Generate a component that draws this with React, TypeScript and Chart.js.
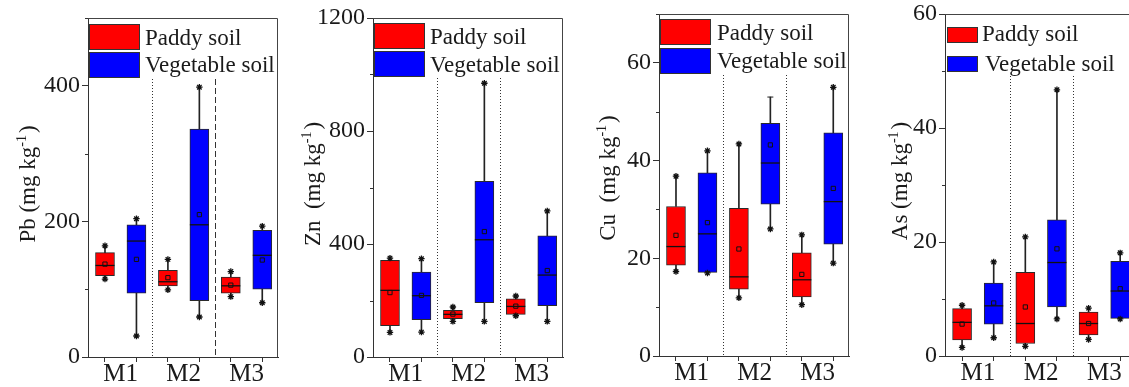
import { useEffect, useRef } from 'react';
import { Chart, registerables } from 'chart.js';

Chart.register(...registerables);

const groupLabels = ['M1', 'M2', 'M3'];
const soilLabels = ['Paddy soil', 'Vegetable soil'];
const soilColors = ['#ff0000', '#0000ff'];

// Box statistics per group (M1, M2, M3): [lower whisker, Q1, median, Q3, upper whisker]
const pbPaddy = [[115, 120, 135, 154, 164], [99, 105, 111, 128, 144], [89, 94, 105, 118, 126]];
const pbPaddyMean = [137, 117, 106];
const pbVeg = [[31, 94, 171, 195, 204], [59, 83, 195, 336, 398], [80, 100, 150, 187, 193]];
const pbVegMean = [144, 210, 143];

const znPaddy = [[87, 111, 236, 342, 350], [126, 136, 151, 165, 177], [146, 151, 179, 206, 216]];
const znPaddyMean = [228, 152, 180];
const znVeg = [[88, 132, 217, 301, 348], [126, 192, 415, 622, 969], [126, 182, 290, 429, 517]];
const znVegMean = [218, 444, 306];

const cuPaddy = [[17.3, 18.6, 22.4, 30.6, 36.8], [11.9, 13.7, 16.2, 30.2, 43.4], [10.5, 12.1, 15.6, 21.1, 24.8]];
const cuPaddyMean = [24.7, 21.9, 16.7];
const cuVeg = [[17.0, 17.1, 25.0, 37.5, 42.0], [26.0, 31.1, 39.5, 47.6, 53.0], [19.0, 22.9, 31.6, 45.7, 55.0]];
const cuVegMean = [27.3, 43.2, 34.3];
// upper whisker ends that carry an extreme-value marker
const cuVegUpperMarked = [true, false, true];

const asPaddy = [[1.5, 2.8, 5.9, 8.3, 8.9], [1.7, 2.2, 5.7, 14.7, 20.9], [2.9, 3.7, 5.7, 7.7, 8.4]];
const asPaddyMean = [5.6, 8.6, 5.7];
const asVeg = [[3.2, 5.6, 8.8, 12.8, 16.5], [6.5, 8.6, 16.4, 23.9, 46.7], [6.5, 6.6, 11.4, 16.6, 18.1]];
const asVegMean = [9.3, 18.8, 11.8];

const AXIS_W = 88;
const RIGHT_PAD = 12;
const H = 387;
const SERIF = '"Liberation Serif", "Times New Roman", serif';
const INK = '#1a1a1a';
const AXIS = '#333333';

type Legend = { dx: number; w: number; h: number; dy: number[]; tx: number[]; ty: number[] };
type Panel = {
  key: string;
  titleMain: string;
  paddy: number[][];
  paddyMean: number[];
  veg: number[][];
  vegMean: number[];
  vegUpperMarked?: boolean[];
  yMax: number;
  yStep: number;
  labelStep: number;
  area: { left: number; right: number; top: number; bottom: number };
  titleDx: number;
  titleCy: number;
  legend: Legend;
  dividerTop: number;
  dividerDash: number[][];
};

const panels: Panel[] = [
  {
    key: 'pb', titleMain: 'Pb (mg kg', paddy: pbPaddy, paddyMean: pbPaddyMean, veg: pbVeg, vegMean: pbVegMean,
    yMax: 500, yStep: 100, labelStep: 200,
    area: { left: 88, right: 278, top: 18, bottom: 357 },
    titleDx: -53, titleCy: 184,
    legend: { dx: 1, w: 51, h: 26, dy: [6, 34], tx: [57, 57], ty: [27, 54] },
    dividerTop: 61, dividerDash: [[1, 2], [6, 3]],
  },
  {
    key: 'zn', titleMain: 'Zn  (mg kg', paddy: znPaddy, paddyMean: znPaddyMean, veg: znVeg, vegMean: znVegMean,
    yMax: 1200, yStep: 200, labelStep: 400,
    area: { left: 373, right: 563, top: 18, bottom: 357 },
    titleDx: -53, titleCy: 184,
    legend: { dx: 1, w: 51, h: 26, dy: [5, 33], tx: [57, 57], ty: [26, 54] },
    dividerTop: 60, dividerDash: [[1, 2], [1, 2]],
  },
  {
    key: 'cu', titleMain: 'Cu  (mg kg', paddy: cuPaddy, paddyMean: cuPaddyMean, veg: cuVeg, vegMean: cuVegMean,
    vegUpperMarked: cuVegUpperMarked,
    yMax: 70, yStep: 10, labelStep: 20,
    area: { left: 659, right: 849, top: 14, bottom: 356 },
    titleDx: -44, titleCy: 178,
    legend: { dx: 1, w: 51, h: 26, dy: [5, 34], tx: [58, 58], ty: [26, 54] },
    dividerTop: 61, dividerDash: [[1, 2], [1, 2]],
  },
  {
    key: 'as', titleMain: 'As (mg kg', paddy: asPaddy, paddyMean: asPaddyMean, veg: asVeg, vegMean: asVegMean,
    yMax: 60, yStep: 10, labelStep: 20,
    area: { left: 945, right: 1136, top: 14, bottom: 356 },
    titleDx: -38, titleCy: 181,
    legend: { dx: 2, w: 31, h: 16, dy: [13, 42], tx: [37, 40], ty: [27, 57] },
    dividerTop: 62, dividerDash: [[1, 2], [1, 2]],
  },
];

const isMultiple = (v: number, step: number) => {
  const r = v / step;
  return Math.abs(r - Math.round(r)) < 1e-6;
};

// x position of a box: paddy soil at 1,3,5 and vegetable soil at 2,4,6
const boxPos = (soil: number, g: number) => 2 * g + 1 + soil;

function decorPlugin(p: Panel) {
  return {
    id: 'decor' + p.key,
    afterDraw(chart: any) {
      const { ctx, chartArea: a, scales } = chart;
      const xs = scales.x;
      const ys = scales.y;
      ctx.save();

      // frame: top and right edges
      ctx.strokeStyle = '#444';
      ctx.lineWidth = 1;
      ctx.beginPath();
      ctx.moveTo(a.left, Math.round(a.top) + 0.5);
      ctx.lineTo(Math.round(a.right) - 0.5, Math.round(a.top) + 0.5);
      ctx.lineTo(Math.round(a.right) - 0.5, a.bottom);
      ctx.stroke();

      // short minor ticks on the y axis
      ctx.strokeStyle = AXIS;
      for (let v = 0; v <= p.yMax + 1e-9; v += p.yStep) {
        if (isMultiple(v, p.labelStep)) continue;
        const py = Math.round(ys.getPixelForValue(v)) + 0.5;
        ctx.beginPath();
        ctx.moveTo(a.left - 3, py);
        ctx.lineTo(a.left, py);
        ctx.stroke();
      }

      // separators between the M1 / M2 / M3 groups
      [0, 1].forEach((i) => {
        const px = Math.round(xs.getPixelForValue(2 * i + 2.5)) + 0.5;
        ctx.setLineDash(p.dividerDash[i]);
        ctx.strokeStyle = '#333';
        ctx.lineWidth = 1;
        ctx.beginPath();
        ctx.moveTo(px, a.top + p.dividerTop);
        ctx.lineTo(px, a.bottom);
        ctx.stroke();
      });
      ctx.setLineDash([]);

      // legend
      const L = p.legend;
      ctx.font = `23px ${SERIF}`;
      ctx.textBaseline = 'alphabetic';
      ctx.textAlign = 'left';
      soilLabels.forEach((label, i) => {
        const bx = a.left + L.dx;
        const by = a.top + L.dy[i];
        ctx.fillStyle = soilColors[i];
        ctx.fillRect(bx, by, L.w, L.h);
        ctx.strokeStyle = '#333';
        ctx.lineWidth = 1;
        ctx.strokeRect(bx + 0.5, by + 0.5, L.w - 1, L.h - 1);
        ctx.fillStyle = INK;
        ctx.fillText(label, a.left + L.tx[i], a.top + L.ty[i]);
      });

      // rotated y-axis title with a superscript exponent
      const mainFont = `23px ${SERIF}`;
      const supFont = `14px ${SERIF}`;
      ctx.font = mainFont;
      const w1 = ctx.measureText(p.titleMain).width;
      const w3 = ctx.measureText(')').width;
      ctx.font = supFont;
      const w2 = ctx.measureText('-1').width + 2;
      ctx.translate(a.left + p.titleDx, p.titleCy);
      ctx.rotate(-Math.PI / 2);
      let tx = -(w1 + w2 + w3) / 2;
      ctx.fillStyle = INK;
      ctx.font = mainFont;
      ctx.fillText(p.titleMain, tx, 0);
      tx += w1;
      ctx.font = supFont;
      ctx.fillText('-1', tx, -9);
      tx += w2;
      ctx.font = mainFont;
      ctx.fillText(')', tx, 0);

      ctx.restore();
    },
  };
}

function makeConfig(p: Panel): any {
  const boxes = [p.paddy, p.veg];
  const means = [p.paddyMean, p.vegMean];
  const upperMarked = [[true, true, true], p.vegUpperMarked || [true, true, true]];

  const boxSets = [0, 1].map((s) => ({
    type: 'bar',
    label: soilLabels[s],
    data: boxes[s].map((b, g) => ({ x: boxPos(s, g), y: [b[1], b[3]] })),
    backgroundColor: soilColors[s],
    borderColor: '#2a2a2a',
    borderWidth: 1,
    borderSkipped: false,
    barThickness: 19,
    grouped: false,
    order: 2,
  }));

  const whiskers: any[] = [];
  const medians: any[] = [];
  const meanPts: any[] = [];
  const marks: any[] = [];
  const caps: any[] = [];
  [0, 1].forEach((s) => {
    boxes[s].forEach((b, g) => {
      const x = boxPos(s, g);
      whiskers.push({ x, y: [b[3], b[4]] }, { x, y: [b[0], b[1]] });
      medians.push({ x, y: b[2] });
      meanPts.push({ x, y: means[s][g] });
      marks.push({ x, y: b[0] });
      if (upperMarked[s][g]) marks.push({ x, y: b[4] });
      else caps.push({ x, y: b[4] });
    });
  });

  const pointCommon = { type: 'scatter', pointHoverRadius: 0, order: 0 };

  const datasets = [
    ...boxSets,
    {
      type: 'bar', label: 'whiskers', data: whiskers, backgroundColor: '#222',
      borderWidth: 0, barThickness: 1, grouped: false, order: 3,
    },
    {
      ...pointCommon, label: 'median', data: medians, pointStyle: 'line', pointRadius: 9.5,
      pointBorderColor: '#111', pointBorderWidth: 1.3, order: 1,
    },
    {
      ...pointCommon, label: 'mean', data: meanPts, pointStyle: 'rect', pointRadius: 3,
      pointBackgroundColor: 'rgba(0,0,0,0)', pointBorderColor: '#111', pointBorderWidth: 1,
    },
    {
      ...pointCommon, label: 'extremes', data: marks, pointStyle: 'star', pointRadius: 3.2,
      pointBorderColor: '#111', pointBorderWidth: 1.3,
    },
    {
      ...pointCommon, label: 'caps', data: caps, pointStyle: 'line', pointRadius: 3,
      pointBorderColor: '#222', pointBorderWidth: 1,
    },
  ];

  const xTickValues = [1, 1.5, 2, 3, 3.5, 4, 5, 5.5, 6];

  return {
    type: 'bar',
    data: { datasets },
    options: {
      responsive: false,
      animation: false,
      devicePixelRatio: 1,
      events: [],
      layout: { padding: { top: p.area.top, right: RIGHT_PAD, left: 0, bottom: 0 } },
      plugins: { legend: { display: false }, tooltip: { enabled: false } },
      scales: {
        x: {
          type: 'linear',
          min: 0.46,
          max: 6.5,
          bounds: 'data',
          offset: false,
          afterBuildTicks: (scale: any) => {
            scale.ticks = xTickValues.map((value) => ({ value }));
          },
          afterFit: (scale: any) => {
            scale.height = H - p.area.bottom;
          },
          ticks: {
            autoSkip: false,
            maxRotation: 0,
            padding: 0,
            color: INK,
            font: { family: SERIF, size: 25, lineHeight: 1 },
            callback: (v: number) => (isMultiple(v - 1.5, 2) ? groupLabels[Math.round((v - 1.5) / 2)] : ''),
          },
          grid: {
            display: true,
            offset: false,
            drawOnChartArea: false,
            drawTicks: true,
            tickLength: 5,
            tickColor: (ctx: any) => (ctx.tick && Number.isInteger(ctx.tick.value) ? AXIS : 'rgba(0,0,0,0)'),
          },
          border: { display: true, color: AXIS, width: 1 },
        },
        y: {
          type: 'linear',
          min: 0,
          max: p.yMax,
          afterFit: (scale: any) => {
            scale.width = AXIS_W;
          },
          ticks: {
            stepSize: p.yStep,
            padding: 2,
            color: INK,
            font: { family: SERIF, size: 24, lineHeight: 1 },
            callback: (v: number) => (isMultiple(v, p.labelStep) ? String(v) : ''),
          },
          grid: {
            display: true,
            drawOnChartArea: false,
            drawTicks: true,
            tickLength: 6,
            tickColor: (ctx: any) => (ctx.tick && isMultiple(ctx.tick.value, p.labelStep) ? AXIS : 'rgba(0,0,0,0)'),
          },
          border: { display: true, color: AXIS, width: 1 },
        },
      },
    },
    plugins: [decorPlugin(p)],
  };
}

function PanelChart({ panel }: { panel: Panel }) {
  const ref = useRef<HTMLCanvasElement>(null);
  const width = AXIS_W + (panel.area.right - panel.area.left) + RIGHT_PAD;
  useEffect(() => {
    const chart = new Chart(ref.current as HTMLCanvasElement, makeConfig(panel));
    return () => chart.destroy();
  }, [panel]);
  return (
    <canvas
      ref={ref}
      width={width}
      height={H}
      style={{ position: 'absolute', left: panel.area.left - AXIS_W, top: 0, width, height: H }}
    />
  );
}

export default function App() {
  return (
    <div
      style={{
        position: 'fixed',
        left: 0,
        top: 0,
        width: 1129,
        height: H,
        overflow: 'hidden',
        background: '#ffffff',
      }}
    >
      {panels.map((p) => (
        <PanelChart key={p.key} panel={p} />
      ))}
    </div>
  );
}
